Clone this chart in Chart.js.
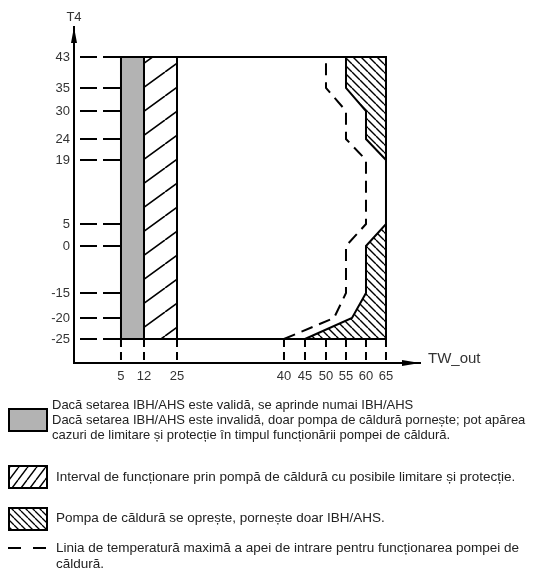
<!DOCTYPE html>
<html>
<head>
<meta charset="utf-8">
<script src="https://cdn.jsdelivr.net/npm/chart.js@4.4.1/dist/chart.umd.min.js"></script>
<style>
html, body { margin: 0; padding: 0; background: #fff; }
</style>
</head>
<body>
<canvas id="chart" width="533" height="573"></canvas>
<script>
// axis ticks (TW_out on x, T4 on y)
var xTicks = [5, 12, 25, 40, 45, 50, 55, 60, 65];
var yTicks = [43, 35, 30, 24, 19, 5, 0, -15, -20, -25];

// zones, as (TW_out, T4) corners
var ibhZoneX = [5, 5, 12, 12, 5];
var ibhZoneY = [-25, 43, 43, -25, -25];
var limitZoneX = [12, 12, 25, 25, 12];
var limitZoneY = [-25, 43, 43, -25, -25];
var stopTopX = [55, 65, 65, 60, 60, 55, 55];
var stopTopY = [43, 43, 19, 24, 30, 35, 43];
var stopBottomX = [45, 56.5, 60, 60, 65, 65, 45];
var stopBottomY = [-25, -20, -15, 0, 5, -25, -25];
var frameX = [5, 65, 65, 5];
var frameY = [43, 43, -25, -25];

// max inlet water temperature line (dashed)
var maxInletX = [40, 52, 55, 55, 60, 60, 55, 55, 50, 50];
var maxInletY = [-25, -20, -15, 0, 5, 19, 24, 30, 35, 43];

var legendIbh = ['Dacă setarea IBH/AHS este validă, se aprinde numai IBH/AHS',
    'Dacă setarea IBH/AHS este invalidă, doar pompa de căldură pornește; pot apărea',
    'cazuri de limitare și protecție în timpul funcționării pompei de căldură.'];
var legendLimit = ['Interval de funcționare prin pompă de căldură cu posibile limitare și protecție.'];
var legendStop = ['Pompa de căldură se oprește, pornește doar IBH/AHS.'];
var legendLine = ['Linia de temperatură maximă a apei de intrare pentru funcționarea pompei de',
    'căldură.'];


// the axes of the drawing are not linear, so a scale that maps values through stops
class PiecewiseScale extends Chart.LinearScale {
    getPixelForValue(value) {
        if (value === null || value === undefined) return NaN;
        var st = this.options.stops;
        var i = 1;
        while (i < st.length - 1 && value > st[i][0]) i++;
        var a = st[i - 1], b = st[i];
        var dec = a[1] + (value - a[0]) / (b[0] - a[0]) * (b[1] - a[1]);
        return this.getPixelForDecimal(dec);
    }
    getValueForPixel(pixel) {
        var dec = this.getDecimalForPixel(pixel);
        var st = this.options.stops;
        var i = 1;
        while (i < st.length - 1 && dec > st[i][1]) i++;
        var a = st[i - 1], b = st[i];
        return a[0] + (dec - a[1]) / (b[1] - a[1]) * (b[0] - a[0]);
    }
}
PiecewiseScale.id = 'piecewise';
Chart.register(PiecewiseScale);


function hatch(w, h, dir, lw) {     // small tile with one diagonal line, dir 1 = "/", -1 = "\"
    var c = document.createElement('canvas');
    c.width = w;
    c.height = h;
    var g = c.getContext('2d');
    g.strokeStyle = '#000';
    g.lineWidth = lw;
    g.beginPath();
    for (var k = -1; k <= 1; k++) {
        if (dir > 0) { g.moveTo(k * w, h); g.lineTo(k * w + w, 0); }
        else { g.moveTo(k * w, 0); g.lineTo(k * w + w, h); }
    }
    g.stroke();
    return g.createPattern(c, 'repeat');
}

var slashFill = hatch(33, 24, 1, 1.6);
var backFill = hatch(8, 8, -1, 1.4);

function pts(xs, ys) {
    return xs.map(function(x, i) { return {x: x, y: ys[i]}; });
}

function zone(data, bg) {
    return {
        data: data,
        showLine: true,
        fill: bg ? 'shape' : false,
        backgroundColor: bg || 'rgba(0,0,0,0)',
        borderColor: '#000',
        borderWidth: 2,
        pointRadius: 0,
        tension: 0
    };
}

var guides = {      // dashed helper lines, axis arrows, axis names and the legend below
    id: 'guides',
    beforeDatasetsDraw: function(chart) {
        var ctx = chart.ctx, xs = chart.scales.x, ys = chart.scales.y, a = chart.chartArea;
        ctx.save();
        ctx.strokeStyle = '#000';
        ctx.lineWidth = 2;
        ctx.setLineDash([17, 6]);
        ctx.lineDashOffset = 17;
        yTicks.forEach(function(v) {
            var y = ys.getPixelForValue(v);
            ctx.beginPath();
            ctx.moveTo(a.left, y);
            ctx.lineTo(xs.getPixelForValue(xTicks[0]), y);
            ctx.stroke();
        });
        ctx.setLineDash([8, 5]);
        ctx.lineDashOffset = 0;
        xTicks.forEach(function(v) {
            var x = xs.getPixelForValue(v);
            ctx.beginPath();
            ctx.moveTo(x, ys.getPixelForValue(yTicks[yTicks.length - 1]));
            ctx.lineTo(x, a.bottom);
            ctx.stroke();
        });
        ctx.restore();
    },
    afterDraw: function(chart) {
        var ctx = chart.ctx, a = chart.chartArea;
        ctx.save();
        ctx.fillStyle = '#000';
        // arrows
        ctx.beginPath();
        ctx.moveTo(a.left, a.top);
        ctx.lineTo(a.left - 3, a.top + 16);
        ctx.lineTo(a.left + 3, a.top + 16);
        ctx.closePath();
        ctx.fill();
        ctx.beginPath();
        ctx.moveTo(a.right, a.bottom);
        ctx.lineTo(a.right - 18, a.bottom - 3);
        ctx.lineTo(a.right - 18, a.bottom + 3);
        ctx.closePath();
        ctx.fill();

        ctx.fillStyle = '#333';
        ctx.textBaseline = 'middle';
        ctx.font = '13px "Liberation Sans"';
        ctx.textAlign = 'center';
        ctx.fillText('T4', a.left, a.top - 10);
        ctx.textAlign = 'left';
        ctx.font = '15px "Liberation Sans"';
        ctx.fillText('TW_out', a.right + 8, a.bottom - 4);

        // legend
        ctx.strokeStyle = '#000';
        ctx.lineWidth = 2;
        ctx.fillStyle = '#b3b3b3';
        ctx.fillRect(9, 409, 38, 22);
        ctx.strokeRect(9, 409, 38, 22);
        ctx.fillStyle = hatch(9, 12, 1, 1.4);
        ctx.fillRect(9, 466, 38, 22);
        ctx.strokeRect(9, 466, 38, 22);
        ctx.fillStyle = hatch(7, 7, -1, 1.3);
        ctx.fillRect(9, 508, 38, 22);
        ctx.strokeRect(9, 508, 38, 22);
        ctx.setLineDash([13, 12]);
        ctx.beginPath();
        ctx.moveTo(8, 548);
        ctx.lineTo(47, 548);
        ctx.stroke();
        ctx.setLineDash([]);

        ctx.fillStyle = '#222';
        ctx.font = '13px "Liberation Sans"';
        legendIbh.forEach(function(t, i) { ctx.fillText(t, 52, 405 + i * 15); });
        ctx.font = '13.5px "Liberation Sans"';
        legendLimit.forEach(function(t, i) { ctx.fillText(t, 56, 477 + i * 15); });
        legendStop.forEach(function(t, i) { ctx.fillText(t, 56, 518 + i * 15); });
        legendLine.forEach(function(t, i) { ctx.fillText(t, 56, 548 + i * 16); });
        ctx.restore();
    }
};

var tickFont = {family: 'Liberation Sans', size: 13};

var chart = new Chart(document.getElementById('chart'), {
    type: 'scatter',
    data: {
        datasets: [
            zone(pts(ibhZoneX, ibhZoneY), '#b3b3b3'),
            zone(pts(limitZoneX, limitZoneY), slashFill),
            zone(pts(stopTopX, stopTopY), backFill),
            zone(pts(stopBottomX, stopBottomY), backFill),
            zone(pts(frameX, frameY), null),
            {
                data: pts(maxInletX, maxInletY),
                showLine: true,
                fill: false,
                borderColor: '#000',
                borderWidth: 2,
                borderDash: [12, 7],
                pointRadius: 0,
                tension: 0
            }
        ]
    },
    options: {
        responsive: false,
        animation: false,
        events: [],
        layout: { padding: { top: 27, right: 113, left: 0, bottom: 0 } },
        plugins: {
            legend: { display: false },
            tooltip: { enabled: false }
        },
        scales: {
            x: {
                type: 'piecewise',
                min: 0,
                max: 70,
                stops: [[0, 0], [5, 0.1358], [12, 0.2023], [25, 0.2977], [40, 0.6069], [45, 0.6676],
                    [50, 0.7283], [55, 0.7861], [60, 0.8439], [65, 0.9017], [70, 1]],
                grid: { display: false, drawTicks: false },
                border: { color: '#000', width: 2 },
                ticks: { autoSkip: false, maxRotation: 0, padding: 6, color: '#333', font: tickFont },
                afterBuildTicks: function(s) { s.ticks = xTicks.map(function(v) { return {value: v}; }); },
                afterFit: function(s) { s.height = 210; }
            },
            y: {
                type: 'piecewise',
                min: -30,
                max: 48,
                stops: [[-30, 0], [-25, 0.0714], [-20, 0.1339], [-15, 0.2083], [0, 0.3482], [5, 0.4137],
                    [19, 0.6042], [24, 0.6667], [30, 0.75], [35, 0.8185], [43, 0.9107], [48, 1]],
                grid: { display: false, drawTicks: false },
                border: { color: '#000', width: 2 },
                ticks: { autoSkip: false, padding: 4, color: '#333', font: tickFont },
                afterBuildTicks: function(s) { s.ticks = yTicks.map(function(v) { return {value: v}; }); },
                afterFit: function(s) { s.width = 74; }
            }
        }
    },
    plugins: [guides]
});
</script>
</body>
</html>
